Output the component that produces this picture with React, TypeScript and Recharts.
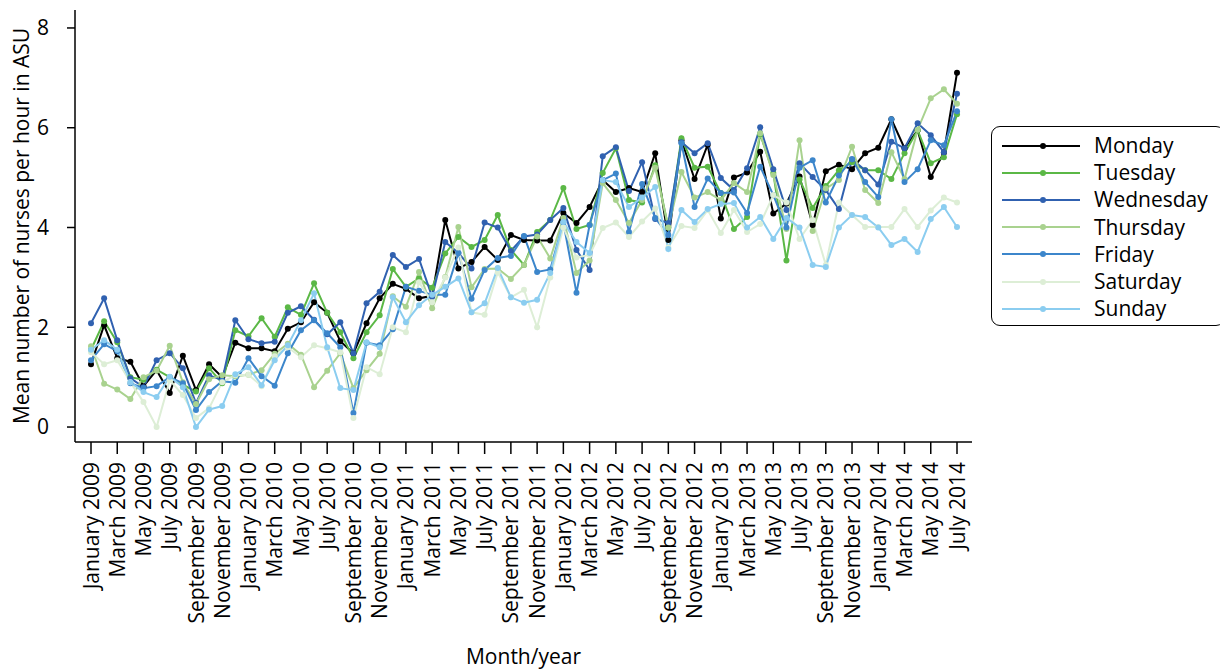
import React from "react";
import { LineChart, Line, XAxis, YAxis, Legend, Label } from "recharts";

const FONT = "'Open Sans', 'Noto Sans', sans-serif";

const monthNames = [
  "January", "February", "March", "April", "May", "June",
  "July", "August", "September", "October", "November", "December",
];
const years = [2009, 2010, 2011, 2012, 2013, 2014];
const categories: string[] = years
  .flatMap((y) => monthNames.map((m) => `${m} ${y}`))
  .slice(0, 67); // January 2009 .. July 2014

const yTicks = [0, 2, 4, 6, 8];

const monday = [
  1.26, 2.04, 1.38, 1.31, 0.82, 1.14, 0.68, 1.43, 0.74, 1.26, 1.0,
  1.69, 1.58, 1.58, 1.52, 1.97, 2.1, 2.5, 2.29, 1.72, 1.48,
  2.08, 2.58, 2.87, 2.77, 2.58, 2.63, 4.15, 3.18, 3.31, 3.61,
  3.35, 3.85, 3.75, 3.74, 3.74, 4.29, 4.09, 4.41, 4.95, 4.71,
  4.79, 4.71, 5.49, 3.75, 5.75, 4.97, 5.66, 4.18, 5.0, 5.1,
  5.52, 4.28, 4.48, 5.02, 4.05, 5.13, 5.26, 5.17, 5.49, 5.6,
  6.17, 5.59, 5.95, 5.01, 5.5, 7.1,
];
const tuesday = [
  1.55, 2.12, 1.7, 1.0, 0.95, 1.15, 1.0, 0.85, 0.71, 1.18, 0.88,
  1.94, 1.82, 2.18, 1.81, 2.4, 2.25, 2.88, 2.29, 1.9, 1.38,
  1.9, 2.24, 3.17, 2.81, 2.98, 2.79, 3.48, 3.81, 3.61, 3.75,
  4.25, 3.55, 3.25, 3.91, 4.15, 4.79, 3.97, 4.05, 5.09, 5.59,
  4.55, 4.5, 5.25, 4.0, 5.79, 5.2, 5.22, 4.69, 3.97, 4.21,
  5.87, 5.09, 3.34, 4.96, 4.39, 4.83, 5.15, 5.31, 5.15, 5.15,
  4.97, 5.49, 5.95, 5.29, 5.41, 6.27,
];
const wednesday = [
  2.08, 2.58, 1.74, 0.98, 0.8, 1.34, 1.48, 1.18, 0.48, 1.04, 0.94,
  2.14, 1.76, 1.68, 1.71, 2.29, 2.42, 2.15, 1.86, 2.1, 1.48,
  2.48, 2.71, 3.45, 3.21, 3.37, 2.61, 3.71, 3.49, 3.18, 4.1,
  4.0, 3.53, 3.82, 3.86, 4.15, 4.39, 3.55, 3.15, 5.43, 5.61,
  4.73, 5.31, 4.17, 4.09, 5.71, 5.49, 5.69, 4.99, 4.75, 5.19,
  6.01, 5.17, 4.35, 5.29, 5.01, 4.75, 4.37, 5.37, 5.15, 4.86,
  5.72, 5.59, 6.09, 5.85, 5.51, 6.68,
];
const thursday = [
  1.62, 0.87, 0.75, 0.56, 1.0, 1.13, 1.63, 0.9, 0.46, 0.96, 1.04,
  1.02, 1.05, 1.14, 1.47, 1.67, 1.45, 0.8, 1.13, 1.48, 0.78,
  1.14, 1.47, 2.62, 2.41, 3.11, 2.38, 3.01, 4.01, 2.8, 3.17,
  3.18, 2.97, 3.25, 3.82, 3.38, 4.19, 3.09, 3.34, 4.89, 4.55,
  4.09, 4.55, 5.2, 4.0, 5.11, 4.6, 4.71, 4.55, 4.89, 4.71,
  5.89, 5.05, 3.97, 5.75, 3.93, 4.78, 4.95, 5.62, 4.75, 4.49,
  5.51, 4.97, 5.96, 6.59, 6.77, 6.48,
];
const friday = [
  1.34, 1.66, 1.52, 0.88, 0.78, 0.82, 1.0, 0.88, 0.34, 0.7, 0.92,
  0.89, 1.38, 1.02, 0.83, 1.48, 1.94, 2.14, 1.88, 1.6, 0.28,
  1.69, 1.64, 1.96, 2.81, 2.73, 2.65, 2.65, 3.49, 2.57, 3.15,
  3.39, 3.43, 3.83, 3.11, 3.16, 4.1, 2.69, 4.05, 4.95, 5.08,
  3.91, 4.87, 4.19, 3.85, 5.69, 4.41, 4.98, 4.69, 4.7, 4.29,
  5.22, 4.65, 4.0, 5.2, 5.35, 4.5, 5.04, 5.37, 4.91, 4.61,
  6.17, 4.91, 5.17, 5.75, 5.65, 6.33,
];
const saturday = [
  1.5, 1.26, 1.34, 0.9, 0.5, 0.0, 0.94, 0.64, 0.18, 0.38, 0.9,
  1.04, 1.05, 0.82, 1.42, 1.6, 1.4, 1.64, 1.58, 1.5, 0.18,
  1.2, 1.06, 2.0, 1.9, 2.9, 2.5, 3.0, 3.6, 2.3, 2.25,
  3.1, 2.6, 2.75, 2.0, 3.0, 4.0, 3.4, 3.45, 3.99, 4.1,
  3.81, 4.12, 4.38, 3.6, 4.03, 3.99, 4.35, 3.89, 4.35, 3.91,
  4.07, 4.65, 4.5, 3.77, 4.15, 3.25, 4.5, 4.25, 4.01, 4.01,
  4.01, 4.37, 4.01, 4.34, 4.6, 4.5,
];
const sunday = [
  1.55, 1.74, 1.55, 0.9, 0.7, 0.6, 1.01, 0.8, 0.0, 0.35, 0.42,
  1.06, 1.2, 0.84, 1.34, 1.64, 2.14, 2.68, 1.6, 0.78, 0.74,
  1.7, 1.6, 2.6, 2.1, 2.44, 2.65, 2.81, 2.98, 2.3, 2.48,
  3.19, 2.6, 2.49, 2.55, 3.09, 4.11, 3.71, 3.49, 4.95, 4.91,
  4.41, 4.6, 4.81, 3.57, 4.35, 4.11, 4.37, 4.47, 4.49, 4.0,
  4.21, 3.77, 4.19, 4.0, 3.25, 3.21, 4.0, 4.25, 4.21, 4.0,
  3.65, 3.77, 3.51, 4.17, 4.41, 4.01,
];

const seriesNames = ["Monday", "Tuesday", "Wednesday", "Thursday", "Friday", "Saturday", "Sunday"];
const seriesColors = ["#000000", "#5bb846", "#3061b0", "#a9d28f", "#3c86cb", "#ddeed6", "#8bcdf0"];
const seriesValues = [monday, tuesday, wednesday, thursday, friday, saturday, sunday];

const data = categories.map((month, i) => {
  const row: Record<string, any> = { month };
  seriesNames.forEach((name, s) => {
    row[name] = seriesValues[s][i];
  });
  return row;
});

const MonthTick = ({ x, y, payload }: any) => (
  <g transform={`translate(${x},${y})`}>
    <text
      transform="rotate(-90)"
      x={-6}
      y={0}
      dy="0.36em"
      textAnchor="end"
      fontSize={21}
      fontFamily={FONT}
      fill="#000"
    >
      {payload.value}
    </text>
  </g>
);

const LegendBox = () => (
  <div
    style={{
      width: 234,
      height: 200,
      boxSizing: "border-box",
      border: "1.5px solid #000",
      borderRadius: 9,
      background: "#fff",
      paddingTop: 5,
      fontFamily: FONT,
      fontSize: 21,
      color: "#000",
    }}
  >
    {seriesNames.map((name, i) => (
      <div key={name} style={{ display: "flex", alignItems: "center", height: 27.2 }}>
        <svg width={102} height={20} style={{ display: "block" }}>
          <line x1={10} x2={88} y1={10} y2={10} stroke={seriesColors[i]} strokeWidth={2} />
          <circle cx={51} cy={10} r={3} fill={seriesColors[i]} />
        </svg>
        <span style={{ lineHeight: "27px" }}>{name}</span>
      </div>
    ))}
  </div>
);

export default function App() {
  return (
    <LineChart
      width={1220}
      height={664}
      data={data}
      margin={{ top: 2, right: 256, bottom: 4, left: 0 }}
    >
      <XAxis
        dataKey="month"
        interval={1}
        tick={<MonthTick />}
        tickSize={12}
        tickMargin={2}
        height={226}
        padding={{ left: 16, right: 15 }}
        axisLine={{ stroke: "#000", strokeWidth: 1.5 }}
        tickLine={{ stroke: "#000", strokeWidth: 1.5 }}
      >
        <Label
          value="Month/year"
          position="insideBottom"
          offset={4}
          style={{ fontSize: 21, fontFamily: FONT, fill: "#000" }}
        />
      </XAxis>
      <YAxis
        type="number"
        domain={[-0.3, 8.36]}
        ticks={yTicks}
        allowDataOverflow
        width={67}
        tickSize={8}
        tickMargin={18}
        axisLine={{ stroke: "#000", strokeWidth: 1.5 }}
        tickLine={{ stroke: "#000", strokeWidth: 1.5 }}
        tick={{ fontSize: 21, fontFamily: FONT, fill: "#000" }}
      >
        <Label
          value="Mean number of nurses per hour in ASU"
          angle={-90}
          position="insideLeft"
          offset={14}
          style={{ fontSize: 21, fontFamily: FONT, fill: "#000", textAnchor: "middle" }}
        />
      </YAxis>
      <Legend
        layout="vertical"
        align="center"
        verticalAlign="middle"
        content={<LegendBox />}
        wrapperStyle={{ left: 983, top: 118, width: 234, height: 200 }}
      />
      {seriesNames.map((name, i) => (
        <Line
          key={name}
          type="linear"
          dataKey={name}
          stroke={seriesColors[i]}
          strokeWidth={2}
          dot={{ r: 3, fill: seriesColors[i], stroke: seriesColors[i], strokeWidth: 0 }}
          activeDot={false}
          isAnimationActive={false}
        />
      ))}
    </LineChart>
  );
}
